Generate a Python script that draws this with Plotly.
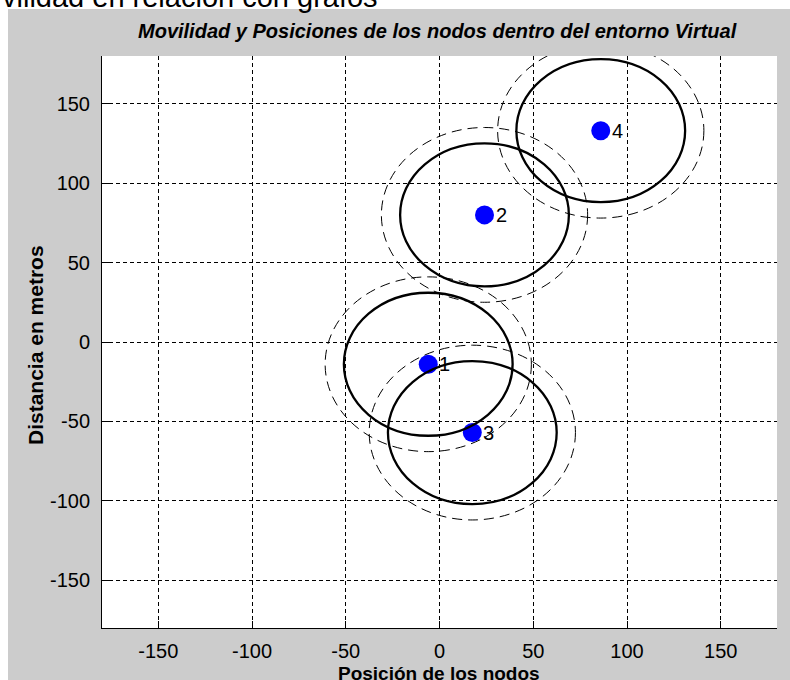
import plotly.graph_objects as go

# Node identifiers and positions (metres)
node_ids = ["1", "2", "3", "4"]
node_x = [-6, 24, 17.5, 86]
node_y = [-14, 80, -57, 133]

# Coverage radius (solid) and interference radius (dashed) for each node
coverage_radius = [45, 45, 45, 45]
interference_radius = [55, 55, 55, 55]

# Axes
tick_values = [-150, -100, -50, 0, 50, 100, 150]
tick_labels = ["-150", "-100", "-50", "0", "50", "100", "150"]
axis_range = [-180, 180]

title_text = "Movilidad y Posiciones de los nodos dentro del entorno Virtual"
x_title = "Posición de los nodos"
y_title = "Distancia en metros"
caption_text = "vilidad en relación con grafos"

W, H = 790, 680
ML, MR, MT, MB = 102, 13, 56, 52
PW, PH = W - ML - MR, H - MT - MB

FIG_BG = "#cccccc"
SANS = "Liberation Sans, Arial, sans-serif"


def px_x(px):
    return (px - ML) / PW


def px_y(py):
    return (H - MB - py) / PH


fig = go.Figure()

fig.add_trace(go.Scatter(
    x=node_x, y=node_y,
    mode="markers",
    marker=dict(color="#0000ff", size=19, line=dict(width=0)),
    hoverinfo="skip", showlegend=False, cliponaxis=False,
))

shapes = []
# white margins around the grey figure area
shapes.append(dict(type="rect", xref="paper", yref="paper",
                   x0=px_x(0), x1=px_x(W), y0=px_y(9), y1=px_y(-5),
                   fillcolor="white", line=dict(width=0), layer="below"))
shapes.append(dict(type="rect", xref="paper", yref="paper",
                   x0=px_x(-5), x1=px_x(8), y0=px_y(H + 5), y1=px_y(-5),
                   fillcolor="white", line=dict(width=0), layer="below"))

for cx, cy, r_in, r_out in zip(node_x, node_y, coverage_radius, interference_radius):
    shapes.append(dict(type="circle", xref="x", yref="y",
                       x0=cx - r_out, x1=cx + r_out, y0=cy - r_out, y1=cy + r_out,
                       line=dict(color="black", width=1, dash="10px,6px"), layer="above"))
    shapes.append(dict(type="circle", xref="x", yref="y",
                       x0=cx - r_in, x1=cx + r_in, y0=cy - r_in, y1=cy + r_in,
                       line=dict(color="black", width=2.3), layer="above"))

annotations = [
    dict(text=caption_text, xref="paper", yref="paper", x=px_x(0), y=px_y(15),
         xanchor="left", yanchor="bottom", showarrow=False,
         font=dict(family=SANS, size=29, color="black")),
    dict(text="<b><i>" + title_text + "</i></b>", xref="paper", yref="paper",
         x=px_x(437), y=px_y(31), xanchor="center", yanchor="middle", showarrow=False,
         font=dict(family=SANS, size=20, color="black")),
    dict(text="<b>" + y_title + "</b>", xref="paper", yref="paper",
         x=px_x(35), y=px_y(345), xanchor="center", yanchor="middle", textangle=-90,
         showarrow=False, font=dict(family=SANS, size=21, color="black")),
    dict(text="<b>" + x_title + "</b>", xref="paper", yref="paper",
         x=px_x(439), y=px_y(661), xanchor="center", yanchor="top", showarrow=False,
         font=dict(family=SANS, size=19, color="black")),
]

# node number labels just right of each marker
for nid, nx, ny in zip(node_ids, node_x, node_y):
    annotations.append(dict(text=nid, x=nx, y=ny, xref="x", yref="y",
                            xanchor="left", yanchor="middle", xshift=9, showarrow=False,
                            font=dict(family=SANS, size=20, color="black")))

axis_common = dict(
    range=axis_range, tickmode="array", tickvals=tick_values, ticktext=tick_labels,
    showgrid=True, gridcolor="black", gridwidth=1, griddash="4px,3px",
    zeroline=False, showline=True, linecolor="black", linewidth=1, mirror=False,
    ticks="inside", ticklen=7, tickcolor="black", tickwidth=1,
    tickfont=dict(family=SANS, size=20, color="black"),
    fixedrange=True,
)

fig.update_layout(
    width=W, height=H,
    margin=dict(l=ML, r=MR, t=MT, b=MB),
    paper_bgcolor=FIG_BG, plot_bgcolor="white",
    xaxis=dict(**axis_common, ticklabelstandoff=5),
    yaxis=dict(**axis_common, ticklabelstandoff=7),
    shapes=shapes, annotations=annotations,
    showlegend=False,
)

fig.write_html("out.html")
